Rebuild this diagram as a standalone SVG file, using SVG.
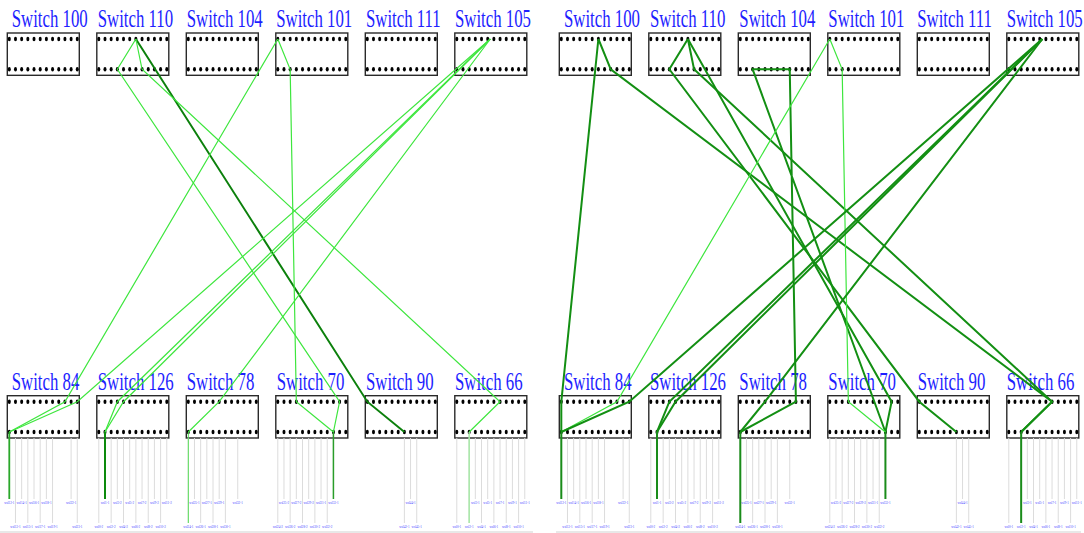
<svg xmlns="http://www.w3.org/2000/svg" xmlns:xlink="http://www.w3.org/1999/xlink" width="1084" height="533" viewBox="0 0 1084 533">
<style>
.box{fill:#fff;stroke:#2a2a2a;stroke-width:1.4}
.dot{fill:#000}
.ttl{font-family:"Liberation Serif",serif;font-size:25px;fill:#1e1eff}
.pl{font-family:"Liberation Serif",serif;font-size:3.2px;fill:#4646ff;text-anchor:middle}
.g{stroke:#dcdcdc;stroke-width:1;fill:none}
.lt{fill:none;stroke:#3ee63e;stroke-width:1.2}
.dk{fill:none;stroke:#138f13;stroke-width:2}
.dkL{fill:none;stroke:#0c800c;stroke-width:2}
.v1{stroke:#2aa82a;stroke-width:1.8}
.v2{stroke:#0d8a0d;stroke-width:2}
.v3{stroke:#55dd55;stroke-width:1}
.v4{stroke:#2a9d2a;stroke-width:1.5}
.v5{stroke:#a6e8a6;stroke-width:1.5}
.vd{stroke:#1a8c1a;stroke-width:2}
</style>
<defs>
<g id="dots">
<ellipse class="dot" cx="2" cy="0" rx="1.5" ry="2.3"/><ellipse class="dot" cx="8.18" cy="0" rx="1.5" ry="2.3"/><ellipse class="dot" cx="14.36" cy="0" rx="1.5" ry="2.3"/><ellipse class="dot" cx="20.54" cy="0" rx="1.5" ry="2.3"/><ellipse class="dot" cx="26.72" cy="0" rx="1.5" ry="2.3"/><ellipse class="dot" cx="32.9" cy="0" rx="1.5" ry="2.3"/><ellipse class="dot" cx="39.08" cy="0" rx="1.5" ry="2.3"/><ellipse class="dot" cx="45.26" cy="0" rx="1.5" ry="2.3"/><ellipse class="dot" cx="51.44" cy="0" rx="1.5" ry="2.3"/><ellipse class="dot" cx="57.62" cy="0" rx="1.5" ry="2.3"/><ellipse class="dot" cx="63.8" cy="0" rx="1.5" ry="2.3"/><ellipse class="dot" cx="69.98" cy="0" rx="1.5" ry="2.3"/>
</g>
<g id="sw">
<rect class="box" x="0" y="0" width="72" height="42.3"/>
<use href="#dots" x="0" y="6"/>
<use href="#dots" x="0" y="36.3"/>
</g>
</defs>
<rect x="0" y="0" width="1084" height="533" fill="#fff"/>
<rect x="0" y="531" width="533" height="2" fill="#e8e8e8"/>
<rect x="556" y="531" width="525" height="2" fill="#e8e8e8"/>

<!-- ===== LEFT PANEL ===== -->
<g id="L-sw100"><text class="ttl" transform="translate(11.7,26.5) scale(0.672,1)">Switch 100</text><use href="#sw" x="7.3" y="33"/></g>
<g id="L-sw110"><text class="ttl" transform="translate(97.7,26.5) scale(0.672,1)">Switch 110</text><use href="#sw" x="96.8" y="33"/></g>
<g id="L-sw104"><text class="ttl" transform="translate(186.7,26.5) scale(0.672,1)">Switch 104</text><use href="#sw" x="186.3" y="33"/></g>
<g id="L-sw101"><text class="ttl" transform="translate(276.2,26.5) scale(0.672,1)">Switch 101</text><use href="#sw" x="275.8" y="33"/></g>
<g id="L-sw111"><text class="ttl" transform="translate(366,26.5) scale(0.672,1)">Switch 111</text><use href="#sw" x="365.3" y="33"/></g>
<g id="L-sw105"><text class="ttl" transform="translate(455,26.5) scale(0.672,1)">Switch 105</text><use href="#sw" x="454.8" y="33"/></g>

<g id="L-sw84"><text class="ttl" transform="translate(11.7,390) scale(0.672,1)">Switch 84</text><use href="#sw" x="7.3" y="395.7"/>
<g class="g"><path d="M9.3 438V499M15.48 438V523M21.66 438V499M27.84 438V523M34.02 438V499M40.2 438V523M46.38 438V499M52.56 438V523M71.1 438V499M77.28 438V523"/></g>
<text class="pl" x="9.3" y="504.4">wsl12-1</text><text class="pl" x="15.48" y="527.8">wsl13-1</text><text class="pl" x="21.66" y="504.4">wsl14-1</text><text class="pl" x="27.84" y="527.8">wsl15-1</text><text class="pl" x="34.02" y="504.4">wsl16-1</text><text class="pl" x="40.2" y="527.8">wsl17-1</text><text class="pl" x="46.38" y="504.4">wsl18-1</text><text class="pl" x="52.56" y="527.8">wsl19-1</text><text class="pl" x="71.1" y="504.4">wsl22-1</text><text class="pl" x="77.28" y="527.8">wsl23-1</text>
</g>
<g id="L-sw126"><text class="ttl" transform="translate(97.7,390) scale(0.672,1)">Switch 126</text><use href="#sw" x="96.8" y="395.7"/>
<g class="g"><path d="M98.8 438V523M104.98 438V499M111.16 438V523M117.34 438V499M123.52 438V523M129.7 438V499M135.88 438V523M142.06 438V499M148.24 438V523M154.42 438V499M160.6 438V523M166.78 438V499"/></g>
<text class="pl" x="98.8" y="527.8">wsl0-2</text><text class="pl" x="104.98" y="504.4">wsl1-1</text><text class="pl" x="111.16" y="527.8">wsl2-2</text><text class="pl" x="117.34" y="504.4">wsl3-2</text><text class="pl" x="123.52" y="527.8">wsl4-2</text><text class="pl" x="129.7" y="504.4">wsl5-2</text><text class="pl" x="135.88" y="527.8">wsl6-2</text><text class="pl" x="142.06" y="504.4">wsl7-2</text><text class="pl" x="148.24" y="527.8">wsl8-2</text><text class="pl" x="154.42" y="504.4">wsl9-2</text><text class="pl" x="160.6" y="527.8">wsl10-2</text><text class="pl" x="166.78" y="504.4">wsl11-2</text>
</g>
<g id="L-sw78"><text class="ttl" transform="translate(186.7,390) scale(0.672,1)">Switch 78</text><use href="#sw" x="186.3" y="395.7"/>
<g class="g"><path d="M188.3 438V523M194.48 438V499M200.66 438V523M206.84 438V499M213.02 438V523M219.2 438V499M225.38 438V523M237.74 438V499"/></g>
<text class="pl" x="188.3" y="527.8">wsl24-1</text><text class="pl" x="194.48" y="504.4">wsl25-1</text><text class="pl" x="200.66" y="527.8">wsl26-1</text><text class="pl" x="206.84" y="504.4">wsl27-1</text><text class="pl" x="213.02" y="527.8">wsl28-1</text><text class="pl" x="219.2" y="504.4">wsl29-1</text><text class="pl" x="225.38" y="527.8">wsl30-1</text><text class="pl" x="237.74" y="504.4">wsl32-1</text>
</g>
<g id="L-sw70"><text class="ttl" transform="translate(276.7,390) scale(0.672,1)">Switch 70</text><use href="#sw" x="275.8" y="395.7"/>
<g class="g"><path d="M277.8 438V523M283.98 438V499M290.16 438V523M296.34 438V499M302.52 438V523M308.7 438V499M314.88 438V523M321.06 438V499M327.24 438V523M333.42 438V499"/></g>
<text class="pl" x="277.8" y="527.8">wsl24-2</text><text class="pl" x="283.98" y="504.4">wsl25-2</text><text class="pl" x="290.16" y="527.8">wsl26-2</text><text class="pl" x="296.34" y="504.4">wsl27-2</text><text class="pl" x="302.52" y="527.8">wsl28-2</text><text class="pl" x="308.7" y="504.4">wsl29-2</text><text class="pl" x="314.88" y="527.8">wsl30-2</text><text class="pl" x="321.06" y="504.4">wsl31-1</text><text class="pl" x="327.24" y="527.8">wsl32-2</text><text class="pl" x="333.42" y="504.4">wsl33-1</text>
</g>
<g id="L-sw90"><text class="ttl" transform="translate(366,390) scale(0.672,1)">Switch 90</text><use href="#sw" x="365.3" y="395.7"/>
<g class="g"><path d="M404.38 438V523M410.56 438V499M416.74 438V523"/></g>
<text class="pl" x="404.38" y="527.8">wsl42-1</text><text class="pl" x="410.56" y="504.4">wsl44-1</text><text class="pl" x="416.74" y="527.8">wsl45-1</text>
</g>
<g id="L-sw66"><text class="ttl" transform="translate(455,390) scale(0.672,1)">Switch 66</text><use href="#sw" x="454.8" y="395.7"/>
<g class="g"><path d="M456.8 438V523M469.16 438V523M475.34 438V499M481.52 438V523M487.7 438V499M493.88 438V523M500.06 438V499M506.24 438V523M512.42 438V499M518.6 438V523M524.78 438V499"/></g>
<text class="pl" x="456.8" y="527.8">wsl0-1</text><text class="pl" x="469.16" y="527.8">wsl2-1</text><text class="pl" x="475.34" y="504.4">wsl3-1</text><text class="pl" x="481.52" y="527.8">wsl4-1</text><text class="pl" x="487.7" y="504.4">wsl5-1</text><text class="pl" x="493.88" y="527.8">wsl6-1</text><text class="pl" x="500.06" y="504.4">wsl7-1</text><text class="pl" x="506.24" y="527.8">wsl8-1</text><text class="pl" x="512.42" y="504.4">wsl9-1</text><text class="pl" x="518.6" y="527.8">wsl10-1</text><text class="pl" x="524.78" y="504.4">wsl11-1</text>
</g>

<g id="L-connectors">
<polyline class="dkL" points="135.88,39 367.3,401.7 404.38,432"/>
<polyline class="lt" points="135.88,39 117.34,69.3 339.6,401.7 333.42,432"/>
<polyline class="lt" points="135.88,39 142.06,69.3 500.06,401.7 469.16,432"/>
<polyline class="lt" points="277.8,39 290.16,69.3 296.34,401.7 333.42,432"/>
<polyline class="lt" points="277.8,39 64.92,401.7 9.3,432"/>
<polyline class="lt" points="490.3,39 77.28,401.7 9.3,432"/>
<polyline class="lt" points="490.3,39 117.34,401.7 104.98,432"/>
<polyline class="lt" points="490.3,39 123.52,401.7 104.98,432"/>
<polyline class="lt" points="490.3,39 219.2,401.7 188.3,432"/>
<line class="v1" x1="9.3" y1="432" x2="9.3" y2="499"/>
<line class="v2" x1="104.98" y1="432" x2="104.98" y2="499"/>
<line class="v3" x1="188.3" y1="432" x2="188.3" y2="523"/>
<line class="v4" x1="333.42" y1="432" x2="333.42" y2="499"/>
<line class="v5" x1="469.16" y1="432" x2="469.16" y2="523"/>
</g>

<!-- ===== RIGHT PANEL ===== -->
<g id="R-sw100"><text class="ttl" transform="translate(564,26.5) scale(0.672,1)">Switch 100</text><use href="#sw" x="559.3" y="33"/></g>
<g id="R-sw110"><text class="ttl" transform="translate(650,26.5) scale(0.672,1)">Switch 110</text><use href="#sw" x="648.8" y="33"/></g>
<g id="R-sw104"><text class="ttl" transform="translate(739.3,26.5) scale(0.672,1)">Switch 104</text><use href="#sw" x="738.3" y="33"/></g>
<g id="R-sw101"><text class="ttl" transform="translate(828.3,26.5) scale(0.672,1)">Switch 101</text><use href="#sw" x="827.8" y="33"/></g>
<g id="R-sw111"><text class="ttl" transform="translate(917.2,26.5) scale(0.672,1)">Switch 111</text><use href="#sw" x="917.3" y="33"/></g>
<g id="R-sw105"><text class="ttl" transform="translate(1006.7,26.5) scale(0.672,1)">Switch 105</text><use href="#sw" x="1006.8" y="33"/></g>

<g id="R-sw84"><text class="ttl" transform="translate(564,390) scale(0.672,1)">Switch 84</text><use href="#sw" x="559.3" y="395.7"/>
<g class="g"><path d="M561.3 438V499M567.48 438V523M573.66 438V499M579.84 438V523M586.02 438V499M592.2 438V523M598.38 438V499M604.56 438V523M623.1 438V499M629.28 438V523"/></g>
<text class="pl" x="561.3" y="504.4">wsl12-1</text><text class="pl" x="567.48" y="527.8">wsl13-1</text><text class="pl" x="573.66" y="504.4">wsl14-1</text><text class="pl" x="579.84" y="527.8">wsl15-1</text><text class="pl" x="586.02" y="504.4">wsl16-1</text><text class="pl" x="592.2" y="527.8">wsl17-1</text><text class="pl" x="598.38" y="504.4">wsl18-1</text><text class="pl" x="604.56" y="527.8">wsl19-1</text><text class="pl" x="623.1" y="504.4">wsl22-1</text><text class="pl" x="629.28" y="527.8">wsl23-1</text>
</g>
<g id="R-sw126"><text class="ttl" transform="translate(650,390) scale(0.672,1)">Switch 126</text><use href="#sw" x="648.8" y="395.7"/>
<g class="g"><path d="M650.8 438V523M656.98 438V499M663.16 438V523M669.34 438V499M675.52 438V523M681.7 438V499M687.88 438V523M694.06 438V499M700.24 438V523M706.42 438V499M712.6 438V523M718.78 438V499"/></g>
<text class="pl" x="650.8" y="527.8">wsl0-2</text><text class="pl" x="656.98" y="504.4">wsl1-1</text><text class="pl" x="663.16" y="527.8">wsl2-2</text><text class="pl" x="669.34" y="504.4">wsl3-2</text><text class="pl" x="675.52" y="527.8">wsl4-2</text><text class="pl" x="681.7" y="504.4">wsl5-2</text><text class="pl" x="687.88" y="527.8">wsl6-2</text><text class="pl" x="694.06" y="504.4">wsl7-2</text><text class="pl" x="700.24" y="527.8">wsl8-2</text><text class="pl" x="706.42" y="504.4">wsl9-2</text><text class="pl" x="712.6" y="527.8">wsl10-2</text><text class="pl" x="718.78" y="504.4">wsl11-2</text>
</g>
<g id="R-sw78"><text class="ttl" transform="translate(739.3,390) scale(0.672,1)">Switch 78</text><use href="#sw" x="738.3" y="395.7"/>
<g class="g"><path d="M740.3 438V523M746.48 438V499M752.66 438V523M758.84 438V499M765.02 438V523M771.2 438V499M777.38 438V523M789.74 438V499"/></g>
<text class="pl" x="740.3" y="527.8">wsl24-1</text><text class="pl" x="746.48" y="504.4">wsl25-1</text><text class="pl" x="752.66" y="527.8">wsl26-1</text><text class="pl" x="758.84" y="504.4">wsl27-1</text><text class="pl" x="765.02" y="527.8">wsl28-1</text><text class="pl" x="771.2" y="504.4">wsl29-1</text><text class="pl" x="777.38" y="527.8">wsl30-1</text><text class="pl" x="789.74" y="504.4">wsl32-1</text>
</g>
<g id="R-sw70"><text class="ttl" transform="translate(828.3,390) scale(0.672,1)">Switch 70</text><use href="#sw" x="827.8" y="395.7"/>
<g class="g"><path d="M829.8 438V523M835.98 438V499M842.16 438V523M848.34 438V499M854.52 438V523M860.7 438V499M866.88 438V523M873.06 438V499M879.24 438V523M885.42 438V499"/></g>
<text class="pl" x="829.8" y="527.8">wsl24-2</text><text class="pl" x="835.98" y="504.4">wsl25-2</text><text class="pl" x="842.16" y="527.8">wsl26-2</text><text class="pl" x="848.34" y="504.4">wsl27-2</text><text class="pl" x="854.52" y="527.8">wsl28-2</text><text class="pl" x="860.7" y="504.4">wsl29-2</text><text class="pl" x="866.88" y="527.8">wsl30-2</text><text class="pl" x="873.06" y="504.4">wsl31-1</text><text class="pl" x="879.24" y="527.8">wsl32-2</text><text class="pl" x="885.42" y="504.4">wsl33-1</text>
</g>
<g id="R-sw90"><text class="ttl" transform="translate(917.7,390) scale(0.672,1)">Switch 90</text><use href="#sw" x="917.3" y="395.7"/>
<g class="g"><path d="M956.38 438V523M962.56 438V499M968.74 438V523"/></g>
<text class="pl" x="956.38" y="527.8">wsl42-1</text><text class="pl" x="962.56" y="504.4">wsl44-1</text><text class="pl" x="968.74" y="527.8">wsl45-1</text>
</g>
<g id="R-sw66"><text class="ttl" transform="translate(1006.7,390) scale(0.672,1)">Switch 66</text><use href="#sw" x="1006.8" y="395.7"/>
<g class="g"><path d="M1008.8 438V523M1021.16 438V523M1027.34 438V499M1033.52 438V523M1039.7 438V499M1045.88 438V523M1052.06 438V499M1058.24 438V523M1064.42 438V499M1070.6 438V523M1076.78 438V499"/></g>
<text class="pl" x="1008.8" y="527.8">wsl0-1</text><text class="pl" x="1021.16" y="527.8">wsl2-1</text><text class="pl" x="1027.34" y="504.4">wsl3-1</text><text class="pl" x="1033.52" y="527.8">wsl4-1</text><text class="pl" x="1039.7" y="504.4">wsl5-1</text><text class="pl" x="1045.88" y="527.8">wsl6-1</text><text class="pl" x="1052.06" y="504.4">wsl7-1</text><text class="pl" x="1058.24" y="527.8">wsl8-1</text><text class="pl" x="1064.42" y="504.4">wsl9-1</text><text class="pl" x="1070.6" y="527.8">wsl10-1</text><text class="pl" x="1076.78" y="504.4">wsl11-1</text>
</g>

<g id="R-connectors">
<polyline class="dk" points="598.38,39 561.3,401.7 561.3,432"/>
<polyline class="dk" points="598.38,39 610.74,69.3 1052.06,401.7 1021.16,432"/>
<polyline class="dk" points="687.88,39 891.6,401.7 885.42,432"/>
<polyline class="dk" points="687.88,39 669.34,69.3 919.3,401.7 956.38,432"/>
<polyline class="dk" points="687.88,39 694.06,69.3 1052.06,401.7 1021.16,432"/>
<polyline class="dk" points="885.42,432 752.66,69.3 789.74,69.3 795.92,401.7 740.3,432"/>
<polyline class="lt" points="829.8,39 842.16,69.3 848.34,401.7 885.42,432"/>
<polyline class="lt" points="829.8,39 616.92,401.7 561.3,432"/>
<polyline class="dk" points="1042.3,39 629.28,401.7 561.3,432"/>
<polyline class="dk" points="1042.3,39 669.34,401.7 656.98,432"/>
<polyline class="dk" points="1042.3,39 675.52,401.7 656.98,432"/>
<polyline class="dk" points="1042.3,39 765.02,401.7 740.3,432"/>
<line class="vd" x1="561.3" y1="432" x2="561.3" y2="499"/>
<line class="vd" x1="656.98" y1="432" x2="656.98" y2="499"/>
<line class="vd" x1="740.3" y1="432" x2="740.3" y2="523"/>
<line class="vd" x1="885.42" y1="432" x2="885.42" y2="499"/>
<line class="vd" x1="1021.16" y1="432" x2="1021.16" y2="523"/>
</g>
</svg>
